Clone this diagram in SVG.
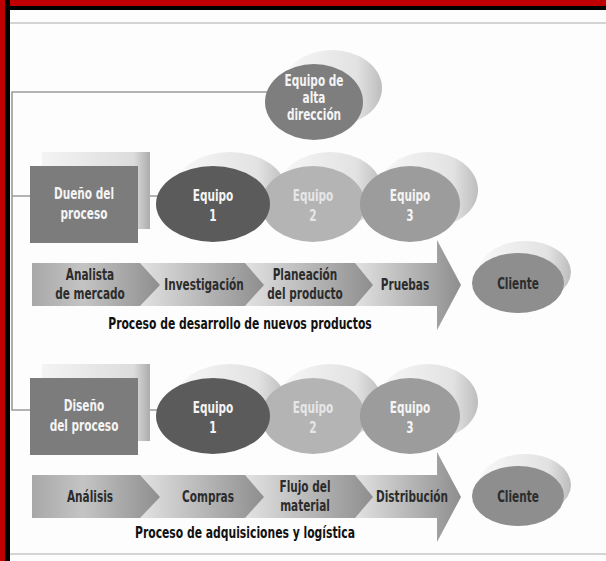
<svg xmlns="http://www.w3.org/2000/svg" width="606" height="561" viewBox="0 0 606 561">
<defs>
<linearGradient id="seg" x1="0" y1="0" x2="1" y2="0">
<stop offset="0" stop-color="#e2e2e2"/><stop offset="1" stop-color="#8e8e8e"/>
</linearGradient>
<linearGradient id="seg1" x1="0" y1="0" x2="1" y2="0">
<stop offset="0" stop-color="#a8a8a8"/><stop offset="0.4" stop-color="#c4c4c4"/><stop offset="1" stop-color="#8e8e8e"/>
</linearGradient>
<linearGradient id="shd" x1="0" y1="0" x2="1" y2="0">
<stop offset="0" stop-color="#f8f8f8"/><stop offset="0.75" stop-color="#e2e2e2"/><stop offset="1" stop-color="#bdbdbd"/>
</linearGradient>
<linearGradient id="shdr" x1="0" y1="0" x2="1" y2="0">
<stop offset="0" stop-color="#f4f4f4"/><stop offset="0.85" stop-color="#dcdcdc"/><stop offset="1" stop-color="#acacac"/>
</linearGradient>
</defs>
<style>
.t{font-family:"DejaVu Sans Condensed","Liberation Sans",sans-serif;font-stretch:condensed;font-weight:bold;font-size:15px;text-anchor:middle;transform-box:fill-box;transform-origin:center;transform:scaleX(0.78)}
.w{fill:#f4f4f4}
.lw{fill:#e6e6e6}
.d{fill:#2c2c2c}
.cap{font-size:15px;fill:#111;transform:scaleX(0.8)}
.ln{fill:none;stroke:#9a9a9a;stroke-width:1.6}
.box{fill:#7c7c7c}
.e1{fill:#5b5b5b}
.e2{fill:#b4b4b4}
.e3{fill:#9c9c9c}
.cl{fill:#8e8e8e}
.sh{fill:url(#shd)}
</style>
<rect width="606" height="561" fill="#fdfdfd"/>
<rect x="0" y="0" width="606" height="10" fill="#000"/>
<rect x="0" y="0" width="606" height="6" fill="#c00000"/>
<rect x="0" y="0" width="10" height="561" fill="#000"/>
<rect x="0" y="0" width="5" height="561" fill="#c00000"/>
<line x1="10" y1="23" x2="606" y2="23" stroke="#d4d4d4" stroke-width="2"/>
<line x1="10" y1="554" x2="606" y2="554" stroke="#d4d4d4" stroke-width="2"/>

<g id="connectors">
<path class="ln" d="M270,92 H12 V410 H160"/>
<path class="ln" d="M12,196 H160"/>
</g>

<g id="alta">
<ellipse class="sh" cx="332" cy="88" rx="50" ry="38"/>
<ellipse cx="314" cy="102" rx="49" ry="38" fill="#7e7e7e"/>
<text class="t w" x="314" y="86">Equipo de</text>
<text class="t w" x="314" y="103">alta</text>
<text class="t w" x="314" y="120">dirección</text>
</g>

<!-- Row 1 -->
<g id="dueno">
<rect x="42" y="152" width="108" height="77" fill="url(#shdr)"/>
<rect class="box" x="30" y="166" width="108" height="77"/>
<text class="t w" x="84" y="199">Dueño del</text>
<text class="t w" x="84" y="219">proceso</text>
</g>
<g id="eq-shadows-1">
<ellipse class="sh" cx="230" cy="190" rx="56" ry="38"/>
<ellipse class="sh" cx="330" cy="190" rx="52" ry="38"/>
<ellipse class="sh" cx="428" cy="190" rx="50" ry="38"/>
</g>
<g id="equipo2-1">
<ellipse class="e2" cx="313" cy="204" rx="52" ry="38"/>
<text class="t lw" x="313" y="201">Equipo</text>
<text class="t lw" x="313" y="221">2</text>
</g>
<g id="equipo1-1">
<ellipse class="e1" cx="213" cy="204" rx="57" ry="38"/>
<text class="t w" x="213" y="201">Equipo</text>
<text class="t w" x="213" y="221">1</text>
</g>
<g id="equipo3-1">
<ellipse class="e3" cx="410" cy="204" rx="50" ry="38"/>
<text class="t w" x="410" y="201">Equipo</text>
<text class="t w" x="410" y="221">3</text>
</g>

<g id="pruebas">
<path d="M355,263 H437 V240 L461,285 L437,330 V306 H355 Z" fill="url(#seg)"/>
<text class="t d" x="405" y="290">Pruebas</text>
</g>
<g id="planeacion">
<path d="M245,263 H355 L373,285 L355,306 H245 Z" fill="url(#seg)"/>
<text class="t d" x="305" y="280">Planeación</text>
<text class="t d" x="305" y="299">del producto</text>
</g>
<g id="investigacion">
<path d="M140,263 H245 L264,285 L245,306 H140 Z" fill="url(#seg)"/>
<text class="t d" x="204" y="290">Investigación</text>
</g>
<g id="analista">
<path d="M32,263 H140 L160,285 L140,306 H32 Z" fill="url(#seg1)"/>
<text class="t d" x="90" y="280">Analista</text>
<text class="t d" x="90" y="299">de mercado</text>
</g>
<g id="cliente-1">
<ellipse class="sh" cx="525" cy="272" rx="46" ry="31"/>
<ellipse class="cl" cx="518" cy="283" rx="46" ry="30"/>
<text class="t d" x="518" y="289">Cliente</text>
</g>
<text class="t cap" x="240" y="329">Proceso de desarrollo de nuevos productos</text>

<!-- Row 2 -->
<g id="diseno">
<rect x="42" y="364" width="108" height="77" fill="url(#shdr)"/>
<rect class="box" x="30" y="378" width="108" height="77"/>
<text class="t w" x="84" y="411">Diseño</text>
<text class="t w" x="84" y="431">del proceso</text>
</g>
<g id="eq-shadows-2">
<ellipse class="sh" cx="230" cy="402" rx="56" ry="38"/>
<ellipse class="sh" cx="330" cy="402" rx="52" ry="38"/>
<ellipse class="sh" cx="428" cy="402" rx="50" ry="38"/>
</g>
<g id="equipo2-2">
<ellipse class="e2" cx="313" cy="416" rx="52" ry="38"/>
<text class="t lw" x="313" y="413">Equipo</text>
<text class="t lw" x="313" y="433">2</text>
</g>
<g id="equipo1-2">
<ellipse class="e1" cx="213" cy="416" rx="57" ry="38"/>
<text class="t w" x="213" y="413">Equipo</text>
<text class="t w" x="213" y="433">1</text>
</g>
<g id="equipo3-2">
<ellipse class="e3" cx="410" cy="416" rx="50" ry="38"/>
<text class="t w" x="410" y="413">Equipo</text>
<text class="t w" x="410" y="433">3</text>
</g>

<g id="distribucion">
<path d="M355,475 H437 V452 L461,497 L437,542 V518 H355 Z" fill="url(#seg)"/>
<text class="t d" x="412" y="502">Distribución</text>
</g>
<g id="flujo">
<path d="M245,475 H355 L373,497 L355,518 H245 Z" fill="url(#seg)"/>
<text class="t d" x="305" y="492">Flujo del</text>
<text class="t d" x="305" y="511">material</text>
</g>
<g id="compras">
<path d="M140,475 H245 L264,497 L245,518 H140 Z" fill="url(#seg)"/>
<text class="t d" x="208" y="502">Compras</text>
</g>
<g id="analisis">
<path d="M32,475 H140 L160,497 L140,518 H32 Z" fill="url(#seg1)"/>
<text class="t d" x="90" y="502">Análisis</text>
</g>
<g id="cliente-2">
<ellipse class="sh" cx="525" cy="485" rx="46" ry="31"/>
<ellipse class="cl" cx="518" cy="496" rx="46" ry="30"/>
<text class="t d" x="518" y="502">Cliente</text>
</g>
<text class="t cap" x="245" y="538">Proceso de adquisiciones y logística</text>
</svg>
